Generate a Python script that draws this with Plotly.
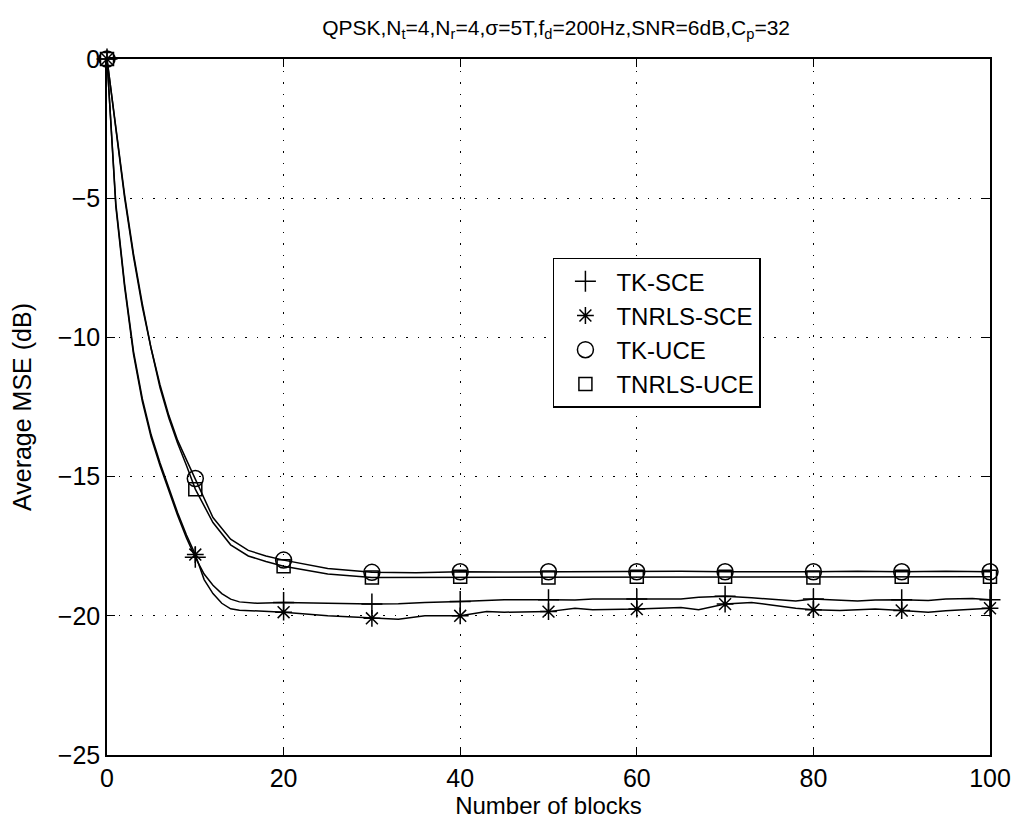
import plotly.graph_objects as go

# ---- data ----
x_sce = [0, 1, 2, 3, 4, 5, 6, 7, 8, 9, 10, 11, 12, 13, 14, 15, 17, 20, 25, 30, 33, 36, 40, 43, 45,
         50, 53, 55, 60, 65, 67, 70, 73, 75, 78, 80, 83, 85, 87, 90, 93, 95, 98, 100]
tk_sce = [0, -5.3, -8.2, -10.6, -12.3, -13.6, -14.6, -15.5, -16.4, -17.2, -17.9, -18.5, -18.9, -19.2,
          -19.4, -19.5, -19.55, -19.52, -19.55, -19.58, -19.57, -19.52, -19.49, -19.45, -19.42,
          -19.42, -19.43, -19.4, -19.4, -19.4, -19.33, -19.3, -19.35, -19.4, -19.47, -19.4, -19.45,
          -19.47, -19.43, -19.42, -19.45, -19.4, -19.38, -19.42]
tnrls_sce = [0, -5.2, -8.1, -10.5, -12.2, -13.5, -14.5, -15.4, -16.3, -17.1, -17.8, -18.7, -19.2,
             -19.55, -19.75, -19.8, -19.82, -19.87, -20.0, -20.09, -20.12, -20.0, -20.0, -19.85,
             -19.87, -19.85, -19.73, -19.78, -19.76, -19.7, -19.78, -19.58, -19.52, -19.6, -19.73,
             -19.78, -19.81, -19.78, -19.76, -19.81, -19.87, -19.82, -19.76, -19.73]

x_uce = [0, 1, 2, 3, 4, 5, 6, 7, 8, 9, 10, 12, 14, 16, 18, 20, 25, 30, 35, 40, 45, 50, 55, 60, 65,
         70, 75, 80, 85, 90, 95, 100]
tk_uce = [0, -2.5, -5.0, -7.1, -8.9, -10.4, -11.7, -12.8, -13.7, -14.4, -15.07, -16.47, -17.25,
          -17.65, -17.85, -18.0, -18.3, -18.44, -18.45, -18.42, -18.43, -18.42, -18.43, -18.42,
          -18.4, -18.42, -18.43, -18.42, -18.4, -18.42, -18.4, -18.42]
tnrls_uce = [0, -2.4, -4.9, -7.0, -8.8, -10.4, -11.8, -12.9, -13.8, -14.6, -15.45, -16.65, -17.45,
             -17.85, -18.05, -18.22, -18.5, -18.62, -18.62, -18.6, -18.6, -18.62, -18.6, -18.6,
             -18.62, -18.6, -18.6, -18.62, -18.6, -18.6, -18.6, -18.6]

x_ticks = [0, 20, 40, 60, 80, 100]
y_ticks = [-25, -20, -15, -10, -5, 0]
title_text = "QPSK,N<sub>t</sub>=4,N<sub>r</sub>=4,σ=5T,f<sub>d</sub>=200Hz,SNR=6dB,C<sub>p</sub>=32"

series = [
    ("TK-SCE", x_sce, tk_sce, "cross-thin-open", 15),
    ("TNRLS-SCE", x_sce, tnrls_sce, "asterisk-open", 14),
    ("TK-UCE", x_uce, tk_uce, "circle-open", 16),
    ("TNRLS-UCE", x_uce, tnrls_uce, "square-open", 13),
]

FONT = "Liberation Sans, Arial, Helvetica, sans-serif"
fig = go.Figure()

for name, xs, ys, sym, sz in series:
    fig.add_trace(go.Scatter(x=xs, y=ys, mode="lines", line=dict(color="black", width=1.5),
                             showlegend=False, hoverinfo="skip"))
for name, xs, ys, sym, sz in series:
    mx = [x for x in xs if x % 10 == 0]
    my = [y for x, y in zip(xs, ys) if x % 10 == 0]
    fig.add_trace(go.Scatter(x=mx, y=my, mode="markers", name=name, cliponaxis=False,
                             marker=dict(symbol=sym, size=sz, color="black",
                                         line=dict(color="black", width=1.5))))

axis_common = dict(showline=True, linecolor="black", linewidth=1.5, mirror="ticks",
                   ticks="inside", ticklen=8, tickcolor="black", tickwidth=1.2,
                   showgrid=True, gridcolor="black", gridwidth=1.2, griddash="1.5px,10px",
                   zeroline=False, tickfont=dict(size=25, color="black", family=FONT))

fig.update_xaxes(range=[0, 100], tickvals=x_ticks,
                 title=dict(text="Number of blocks", standoff=2,
                            font=dict(size=24, color="black", family=FONT)), **axis_common)
fig.update_yaxes(range=[-25, 0], tickvals=y_ticks,
                 title=dict(text="Average MSE (dB)", standoff=20,
                            font=dict(size=25, color="black", family=FONT)), **axis_common)

fig.update_layout(
    width=1015, height=815,
    margin=dict(l=97, r=25, t=51, b=67),
    paper_bgcolor="white", plot_bgcolor="white",
    font=dict(family=FONT, color="black", size=24),
    title=dict(text=title_text, x=0.54, xanchor="center", y=0.985, yanchor="top",
               font=dict(size=21, family=FONT, color="black")),
    legend=dict(x=0.505, y=0.7145, xanchor="left", yanchor="top", bgcolor="white",
                bordercolor="black", borderwidth=1.5,
                font=dict(size=24, family=FONT, color="black"), itemwidth=52),
)

fig.write_html("out.html")
